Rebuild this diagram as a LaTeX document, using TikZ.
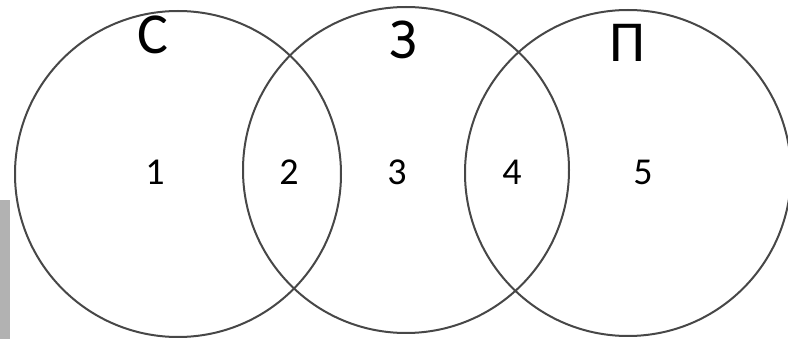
\documentclass[tikz,border=0pt]{standalone}
\usepackage{fontspec}
\setmainfont{Carlito}
\begin{document}
\begin{tikzpicture}[x=1pt,y=-1pt,
  ring/.style={draw=black!72, line width=2pt, circle, minimum size=326pt, inner sep=0pt},
  letter/.style={font=\fontsize{58}{58}\selectfont, inner sep=0pt, text=black},
  num/.style={font=\fontsize{38}{38}\selectfont, inner sep=0pt, text=black}]
\useasboundingbox (0,0) rectangle (788,339);
\fill[black!30] (0,200) rectangle (10,339);
\node[ring] (c1) at (178,174) {};
\node[ring] (c2) at (406,170) {};
\node[ring] (c3) at (628,173) {};
\node[letter] (s) at (153,35) {С};
\node[letter] (z) at (403,40) {З};
\node[letter] (p) at (628,43) {П};
\node[num] (n1) at (155,172) {1};
\node[num] (n2) at (289,172) {2};
\node[num] (n3) at (397,172) {3};
\node[num] (n4) at (512,172) {4};
\node[num] (n5) at (643,172) {5};
\end{tikzpicture}
\end{document}
